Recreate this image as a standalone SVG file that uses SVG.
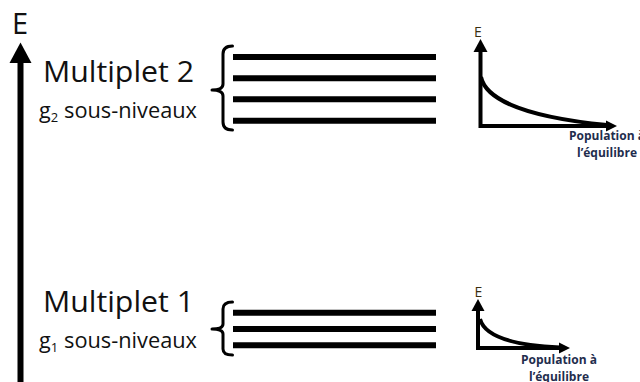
<svg xmlns="http://www.w3.org/2000/svg" width="640" height="382" viewBox="0 0 640 382">
<style>
.big{font-family:"Open Sans","Liberation Sans",sans-serif;fill:#111}
.lvl{stroke:#000;stroke-width:6;fill:none}
.brace{stroke:#000;stroke-width:3;fill:none;stroke-linecap:round;stroke-linejoin:round}
.ax{stroke:#000;stroke-width:4;fill:none;stroke-linejoin:miter}
.curve{stroke:#000;stroke-width:4;fill:none}
.pop{font-family:"Open Sans","Liberation Sans",sans-serif;font-weight:bold;font-size:12px;fill:#1f2d4d;text-anchor:middle}
.se{font-family:"Open Sans","Liberation Sans",sans-serif;font-size:14px;fill:#3a2e10;text-anchor:middle}
</style>
<rect width="640" height="382" fill="#fff"/>
<g id="energy-axis">
<line x1="20.5" y1="62" x2="20.5" y2="382" stroke="#000" stroke-width="6"/>
<polygon points="20.5,42.5 9.5,63 31.5,63" fill="#000"/>
<text class="big" x="20" y="34" font-size="29" text-anchor="middle">E</text>
</g>
<g id="multiplet2">
<text class="big" x="43" y="82" font-size="29" textLength="151" lengthAdjust="spacingAndGlyphs">Multiplet 2</text>
<text class="big" x="39" y="117.5" font-size="21.5">g<tspan font-size="13" dy="4">2</tspan><tspan x="64" dy="-4" textLength="133" lengthAdjust="spacingAndGlyphs">sous-niveaux</tspan></text>
<path class="brace" d="M232.5,46 Q223,46 223,54 L223,84 Q223,90 212,90 Q223,90 223,96 L223,122 Q223,130 232.5,130"/>
<line class="lvl" x1="233" y1="57" x2="436" y2="57"/>
<line class="lvl" x1="233" y1="78.3" x2="436" y2="78.3"/>
<line class="lvl" x1="233" y1="99.3" x2="436" y2="99.3"/>
<line class="lvl" x1="233" y1="120.7" x2="436" y2="120.7"/>
</g>
<g id="multiplet1">
<text class="big" x="43" y="312" font-size="29" textLength="151" lengthAdjust="spacingAndGlyphs">Multiplet 1</text>
<text class="big" x="39" y="347.5" font-size="21.5">g<tspan font-size="13" dy="4">1</tspan><tspan x="64" dy="-4" textLength="133" lengthAdjust="spacingAndGlyphs">sous-niveaux</tspan></text>
<path class="brace" d="M232.5,302 Q223,302 223,309 L223,324 Q223,329 212,329 Q223,329 223,334 L223,349 Q223,355 232.5,355"/>
<line class="lvl" x1="233" y1="312.7" x2="436" y2="312.7"/>
<line class="lvl" x1="233" y1="329" x2="436" y2="329"/>
<line class="lvl" x1="233" y1="345.3" x2="436" y2="345.3"/>
</g>
<g id="population2">
<path class="ax" d="M480.5,51 L480.5,126 L607,126"/>
<polygon points="480.5,39 473.5,52 487.5,52" fill="#000"/>
<polygon points="617,126 606,120.5 606,131.5" fill="#000"/>
<path class="curve" d="M481,77 C485,96 515,116 607,125"/>
<text class="se" x="478" y="37.3">E</text>
<text class="pop" x="607" y="140">Population à</text>
<text class="pop" x="607" y="156.7">l’équilibre</text>
</g>
<g id="population1">
<path class="ax" d="M478,310 L478,348 L560,348"/>
<polygon points="478,299 471.5,311 484.5,311" fill="#000"/>
<polygon points="570,348 559,342.5 559,353.5" fill="#000"/>
<path class="curve" d="M480,319 C484,334 505,345 560,347.5"/>
<text class="se" x="478.3" y="296.7">E</text>
<text class="pop" x="559" y="364.3">Population à</text>
<text class="pop" x="559" y="381">l’équilibre</text>
</g>
<g id="connectors"></g>
</svg>
